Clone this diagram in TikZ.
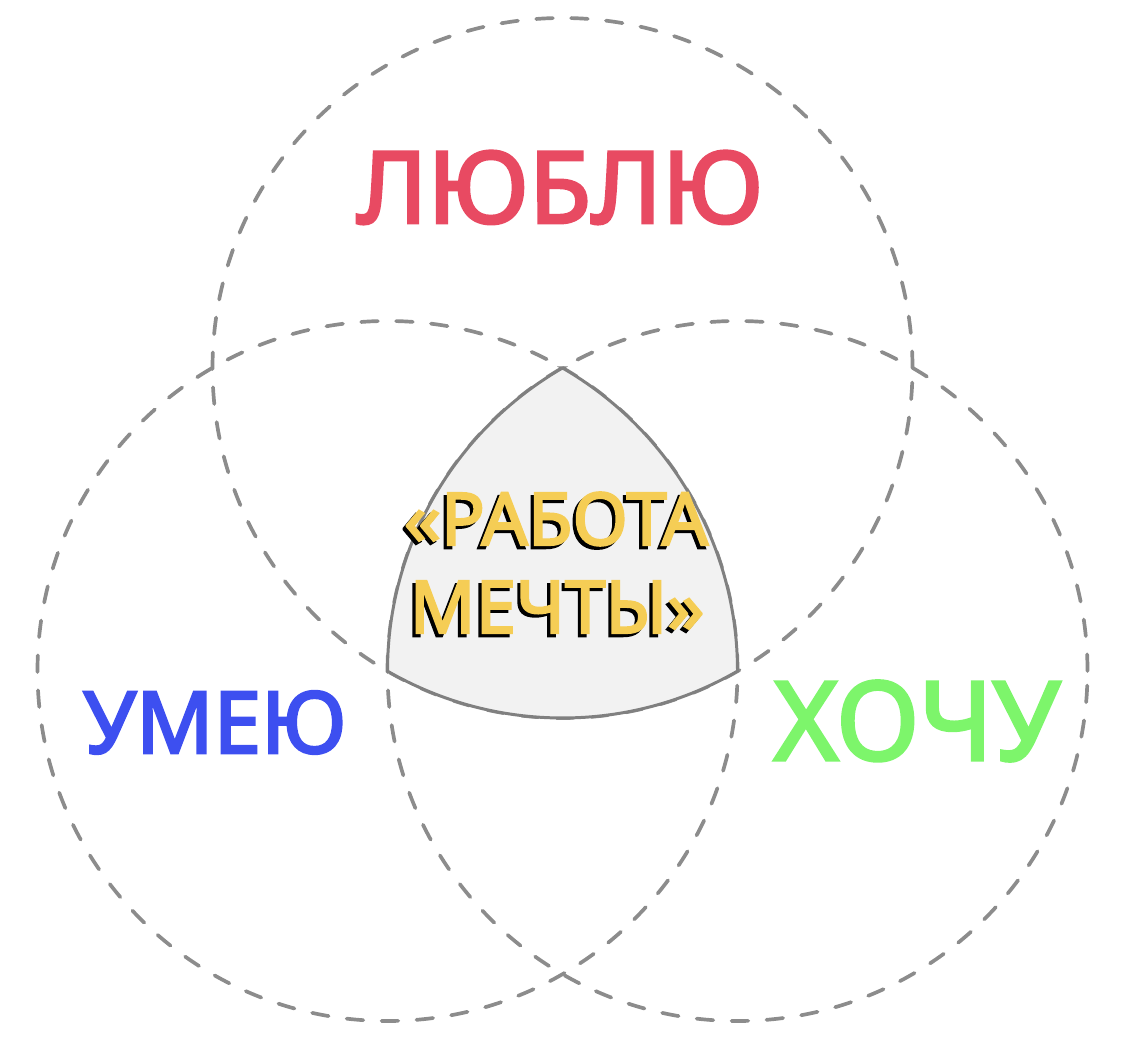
\documentclass[tikz,border=0pt]{standalone}
\usepackage{fontspec}
\setmainfont{Noto Sans}
\newfontfamily\wordfont{Noto Sans}[FakeBold=3]
\usepackage{tikz}
\usetikzlibrary{calc}
\definecolor{loveRed}{HTML}{E84A62}
\definecolor{skillBlue}{HTML}{3D4FF0}
\definecolor{wantGreen}{HTML}{7DF56B}
\definecolor{dreamGold}{HTML}{F5CD55}
\definecolor{dashGray}{HTML}{8C8C8C}
\definecolor{edgeGray}{HTML}{808080}
\definecolor{fillGray}{HTML}{F2F2F2}
\tikzset{
  ring/.style={line width=2.1pt, color=dashGray, dash pattern=on 9.5pt off 10.4pt, line cap=round},
  word/.style={anchor=base, inner sep=0pt, font=\wordfont},
}
\def\radius{7}
\def\shadowed#1{\makebox[0pt][l]{\hspace*{-1.8pt}\raisebox{-1.8pt}{\color{black}#1}}#1}

\begin{document}
\begin{tikzpicture}
			%%%%% START %%%%%
			\useasboundingbox (0, 0) rectangle (22.5, 20.9);
			
			\coordinate (love) at (11.25, 13.54);
			\coordinate (skill) at (7.75, 7.48);
			\coordinate (want) at (14.75, 7.48);
			
			\draw[ring] (love) circle (\radius);
			\draw[ring] (skill) circle (\radius);
			\draw[ring] (want) circle (\radius);
			
			\draw[line width=1.7pt, color=edgeGray, fill=fillGray] (love) arc (120:180:\radius) arc (240:300:\radius) arc (0:60:\radius) -- cycle;
			
			\node[word, color=loveRed, font=\wordfont\fontsize{56.6}{60}\selectfont, xscale=1.02] (loveText) at (11.2, 16.44) {ЛЮБЛЮ};
			\node[word, color=skillBlue, font=\wordfont\fontsize{48.6}{52}\selectfont] (skillText) at (4.3, 5.84) {УМЕЮ};
			\node[word, color=wantGreen, font=\wordfont\fontsize{62.2}{66}\selectfont] (wantText) at (18.34, 5.70) {ХОЧУ};
			
			\node[word, color=dreamGold, font=\wordfont\fontsize{41.4}{44}\selectfont] (dreamTop) at (11.12, 10.0) {\shadowed{«РАБОТА}};
			\node[word, color=dreamGold, font=\wordfont\fontsize{41.4}{44}\selectfont] (dreamBottom) at (11.14, 8.24) {\shadowed{МЕЧТЫ»}};
			
			%%%%% END %%%%%
		\end{tikzpicture}
\end{document}
